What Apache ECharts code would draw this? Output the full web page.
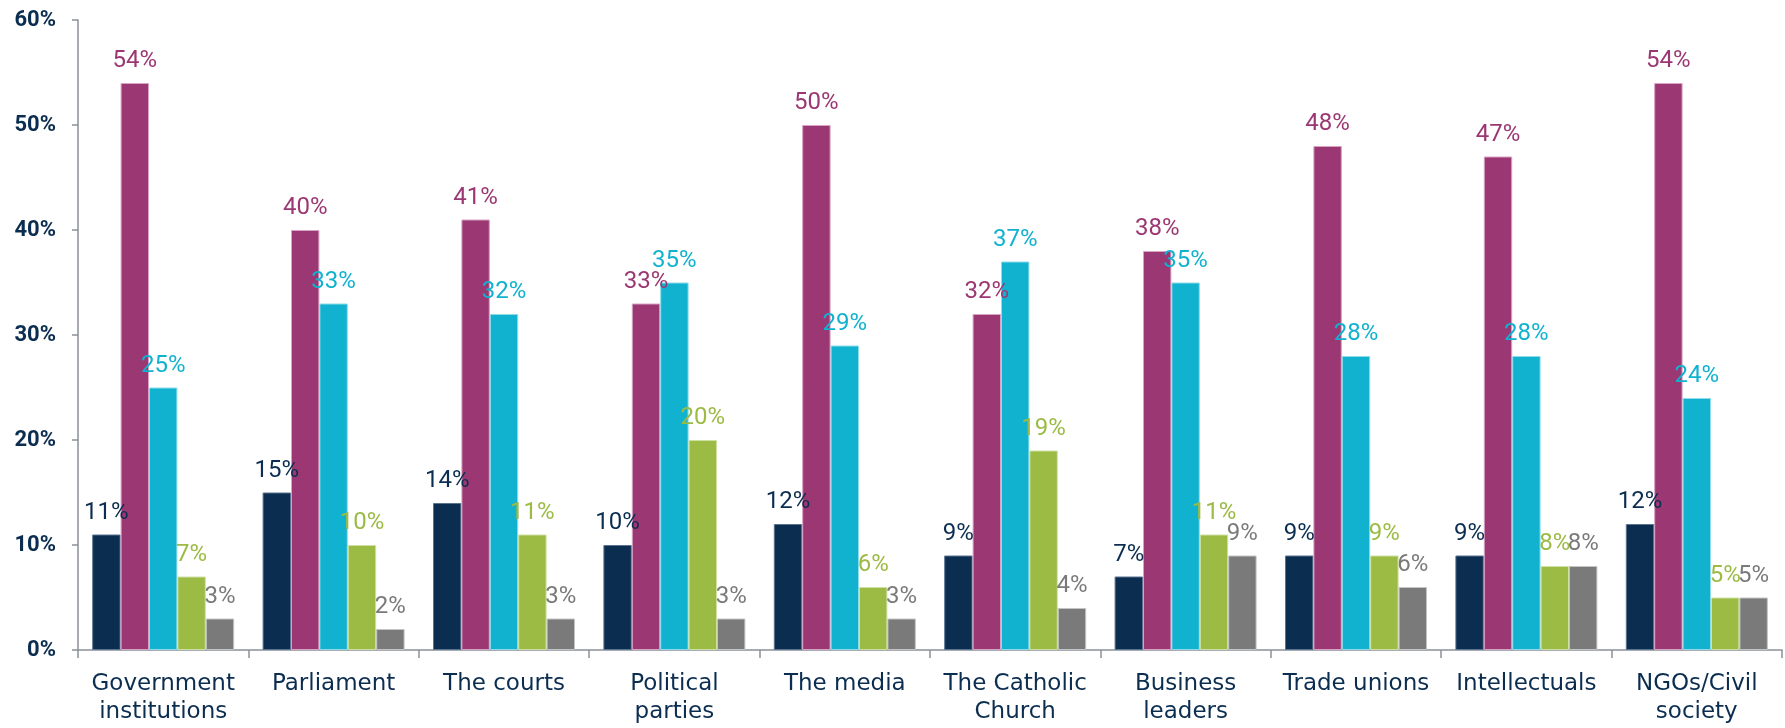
<!DOCTYPE html>
<html>
<head>
<meta charset="utf-8">
<script src="https://cdn.jsdelivr.net/npm/echarts@6/dist/echarts.min.js"></script>
<style>
html,body{margin:0;padding:0;background:#fff;}
#chart{width:1785px;height:728px;}
</style>
</head>
<body>
<div id="chart"></div>
<script>
const categories = ["Government\ninstitutions", "Parliament", "The courts", "Political\nparties", "The media", "The Catholic\nChurch", "Business\nleaders", "Trade unions", "Intellectuals", "NGOs/Civil\nsociety"];
const series1 = [11, 15, 14, 10, 12, 9, 7, 9, 9, 12];
const series2 = [54, 40, 41, 33, 50, 32, 38, 48, 47, 54];
const series3 = [25, 33, 32, 35, 29, 37, 35, 28, 28, 24];
const series4 = [7, 10, 11, 20, 6, 19, 11, 9, 8, 5];
const series5 = [3, 2, 3, 3, 3, 4, 9, 6, 8, 5];
const yTicks = [0, 10, 20, 30, 40, 50, 60];

const colors = ["#0b2d50", "#9b3772", "#11b2cf", "#9bbb45", "#7a7a7b"];
const borders = ["#5a7390", "#d6a3c3", "#8fdbe9", "#cfe0a3", "#c4c4c4"];
const allData = [series1, series2, series3, series4, series5];

const chart = echarts.init(document.getElementById('chart'));
chart.setOption({
  animation: false,
  backgroundColor: '#ffffff',
  grid: { left: 78, right: 3, top: 20, bottom: 78, containLabel: false },
  xAxis: {
    type: 'category',
    data: categories,
    boundaryGap: true,
    axisLine: { lineStyle: { color: '#8b9099', width: 1.5 } },
    axisTick: { show: true, length: 8, lineStyle: { color: '#8b9099', width: 1.5 } },
    axisLabel: {
      color: '#0b2d50',
      fontFamily: 'DejaVu Sans',
      fontSize: 23,
      lineHeight: 28,
      margin: 20,
      interval: 0
    }
  },
  yAxis: {
    type: 'value',
    min: yTicks[0],
    max: yTicks[yTicks.length - 1],
    interval: 10,
    splitLine: { show: false },
    axisLine: { show: true, lineStyle: { color: '#8b9099', width: 1.5 } },
    axisTick: { show: true, length: 6, lineStyle: { color: '#8b9099', width: 1.5 } },
    axisLabel: {
      color: '#0b2d50',
      fontFamily: 'Roboto',
      fontWeight: 'bold',
      fontSize: 22,
      margin: 22,
      formatter: '{value}%'
    }
  },
  series: allData.map((d, i) => ({
    type: 'bar',
    data: d,
    barGap: '0%',
    barCategoryGap: '16.67%',
    itemStyle: { color: colors[i], borderColor: borders[i], borderWidth: 1 },
    label: {
      show: true,
      position: 'top',
      distance: 10,
      color: colors[i],
      fontFamily: 'Roboto',
      fontSize: 24,
      formatter: '{c}%'
    }
  }))
});
</script>
</body>
</html>
